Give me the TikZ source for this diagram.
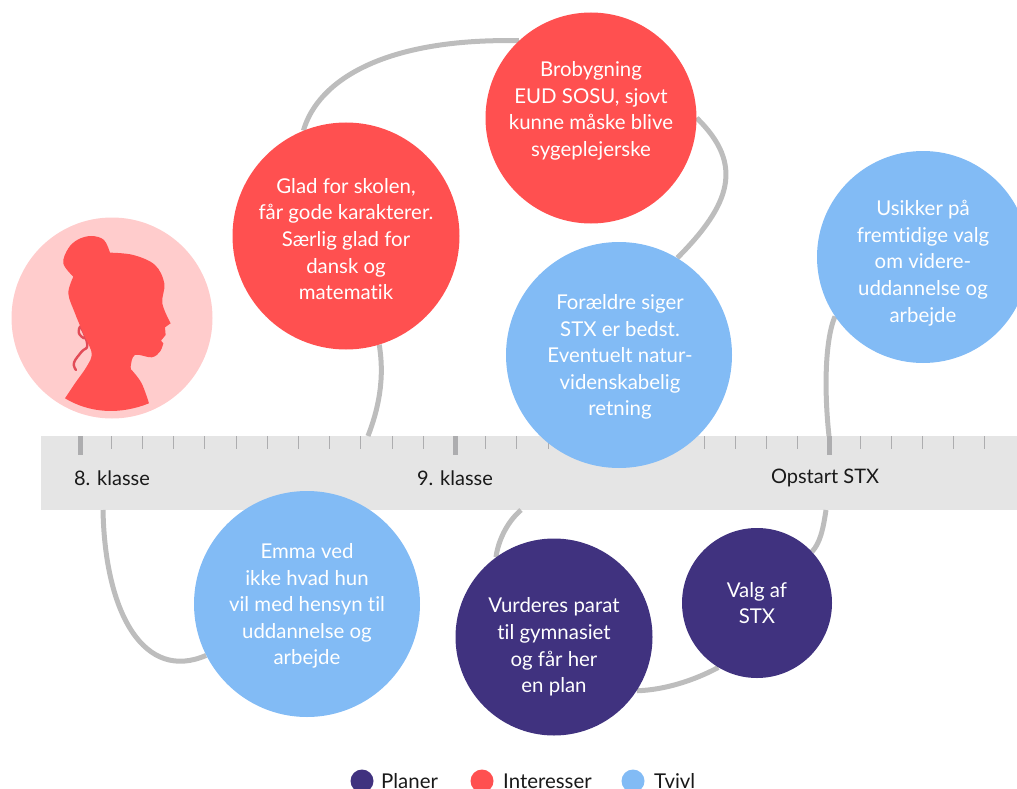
\documentclass[tikz,border=0pt]{standalone}
\usepackage{fontspec}
\setmainfont[Ligatures=NoCommon]{Lato}
\usetikzlibrary{backgrounds}
\definecolor{planer}{HTML}{40327F}
\definecolor{interesser}{HTML}{FF5050}
\definecolor{tvivl}{HTML}{82BBF5}
\definecolor{rosa}{HTML}{FFCCCC}
\definecolor{bandgrey}{HTML}{E5E5E5}
\definecolor{linegrey}{HTML}{BDBDBD}
\definecolor{tickgrey}{HTML}{ADADAF}
\tikzset{
    bubble/.style={circle,inner sep=0pt},
    bubbletext/.style={inner sep=0pt,text=white,align=center,font=\fontsize{20.4}{26.6}\selectfont},
    link/.style={draw=linegrey,line width=5pt},
    bandlabel/.style={font=\fontsize{20}{24}\selectfont,text=black!90},
    legenddot/.style={circle,minimum size=23pt,inner sep=0pt},
    legendlabel/.style={anchor=base west,inner sep=0pt,font=\fontsize{20.4}{24}\selectfont,text=black!90}
}
\begin{document}
\begin{tikzpicture}[x=1pt,y=-1pt]
    \useasboundingbox (0,0) rectangle (1017,789);

    \node[bubble,fill=interesser,minimum size=227pt] (glad) at (346,236) {};
    \node[bubble,fill=interesser,minimum size=211pt] (bro) at (591,118) {};
    \node[bubble,fill=tvivl,minimum size=226pt] (foraeldre) at (619,355) {};
    \node[bubble,fill=tvivl,minimum size=212pt] (usikker) at (923,257) {};
    \node[bubble,fill=tvivl,minimum size=226pt] (emma) at (307,604) {};
    \node[bubble,fill=planer,minimum size=197pt] (vurderes) at (554,637) {};
    \node[bubble,fill=planer,minimum size=150pt] (valg) at (757,603) {};

    \node[bubbletext] (gladtext) at (346,239) {Glad for skolen,\\får gode karakterer.\\Særlig glad for\\dansk og\\matematik};
    \node[bubbletext] (brotext) at (591,111) {Brobygning\\EUD SOSU, sjovt\\kunne måske blive\\sygeplejerske};
    \node[bubbletext] (foraeldretext) at (620,357) {Forældre siger\\STX er bedst.\\Eventuelt natur-\\videnskabelig\\retning};
    \node[bubbletext] (usikkertext) at (923,263) {Usikker på\\fremtidige valg\\om videre-\\uddannelse og\\arbejde};
    \node[bubbletext] (emmatext) at (307,606) {Emma ved\\ikke hvad hun\\vil med hensyn til\\uddannelse og\\arbejde};
    \node[bubbletext] (vurderestext) at (554,647) {Vurderes parat\\til gymnasiet\\og får her\\en plan};
    \node[bubbletext] (valgtext) at (757,603) {Valg af\\STX};

    \begin{scope}[on background layer]
        \node[fill=bandgrey,minimum width=976pt,minimum height=74pt,inner sep=0pt] (band) at (529,473) {};
        \foreach \k in {0,...,29}
            \draw[tickgrey,line width=.8pt] (80+31.2*\k,436) -- (80+31.2*\k,449);
        \foreach \x in {80,455,829}
            \draw[tickgrey,line width=5pt] (\x,436) -- (\x,455);

        \coordinate (gladend) at (368,436);
        \coordinate (otte) at (103,510);
        \coordinate (ni) at (521,510);
        \coordinate (stxtop) at (829,436);
        \coordinate (stxbottom) at (826,510);

        \draw[link] (glad.112) .. controls (318,80) and (385,38) .. (bro.133);
        \draw[link] (bro.0) .. controls (745,165) and (730,205) .. (foraeldre.59);
        \draw[link] (glad.-73) .. controls (385,380) and (378,410) .. (gladend);
        \draw[link] (otte) .. controls (105,615) and (145,682) .. (emma.207);
        \draw[link] (ni) .. controls (506,523) and (498,542) .. (vurderes.126);
        \draw[link] (vurderes.-33) .. controls (665,690) and (695,680) .. (valg.-121);
        \draw[link] (stxbottom) .. controls (823,530) and (820,543) .. (valg.43);
        \draw[link] (stxtop) .. controls (824,390) and (825,340) .. (usikker.214);
    \end{scope}

    \node[bandlabel] (ottelabel) at (112,478) {8. klasse};
    \node[bandlabel] (nilabel) at (455,478) {9. klasse};
    \node[bandlabel] (stxlabel) at (825,478) {Opstart STX};

    \node[circle,fill=rosa,minimum size=201pt,inner sep=0pt] (portrait) at (112,318) {};
    \begin{scope}[x=.3333pt,y=-.3333pt,yshift=-220pt]
        \draw[line width=2.4pt,draw=interesser!85!planer,line cap=round] plot[smooth,tension=.7] coordinates {(262,335) (255,355) (237,340) (243,322) (262,375) (245,395) (222,428) (228,450)};
        \fill[interesser] plot[smooth,tension=.55] coordinates {(195,535) (225,490) (260,440) (275,400) (250,340) (225,280) (205,220) (220,170)} -- plot[smooth,tension=.6] coordinates {(220,170) (190,130) (205,85) (235,58) (275,48) (312,60) (330,98)} -- plot[smooth,tension=.6] coordinates {(330,98) (400,105) (465,135) (493,190) (487,250) (512,310)} -- (495,322) -- (497,345) -- (483,362) -- (490,370) -- plot[smooth,tension=.6] coordinates {(490,370) (480,395) (455,412) (405,405) (392,440) (395,450)} -- plot[smooth,tension=.6] coordinates {(395,450) (425,490) (447,550)} .. controls (360,585) and (270,580) .. (195,535) -- cycle;
    \end{scope}

    \node[legenddot,fill=planer] (dotplaner) at (362,781) {};
    \node[legendlabel] (labelplaner) at (381,788) {Planer};
    \node[legenddot,fill=interesser] (dotinteresser) at (482,781) {};
    \node[legendlabel] (labelinteresser) at (503,788) {Interesser};
    \node[legenddot,fill=tvivl] (dottvivl) at (633,781) {};
    \node[legendlabel] (labeltvivl) at (654,788) {Tvivl};
\end{tikzpicture}
\end{document}
